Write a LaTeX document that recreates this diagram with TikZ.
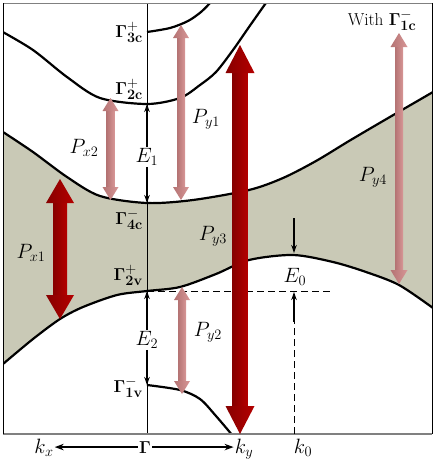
\documentclass[tikz,border=0pt]{standalone}
\usetikzlibrary{arrows.meta}
\DeclareMathSizes{17.28}{17.28}{14.4}{10}
\DeclareMathSizes{20.74}{20.74}{14.4}{10}
\definecolor{band}{RGB}{201,201,182}
\definecolor{dred}{RGB}{135,0,0}
\definecolor{mred}{RGB}{180,0,0}
\definecolor{lred}{RGB}{235,55,55}
\definecolor{dpink}{RGB}{180,115,115}
\definecolor{mpink}{RGB}{215,150,150}
\definecolor{lpink}{RGB}{245,200,200}
\newcommand\tdarrow[7]{%
  \shade[#7] ({#1-#4/2},{#2+#6-0.5}) rectangle ({#1+#4/2},{#3-#6+0.5});
  \shade[#7] ({#1-#5/2},{#2+#6}) -- (#1,#2) -- ({#1+#5/2},{#2+#6}) -- cycle;
  \shade[#7] ({#1-#5/2},{#3-#6}) -- (#1,#3) -- ({#1+#5/2},{#3-#6}) -- cycle;
}
\tikzset{
  redarrow/.style={left color=dred, middle color=lred, right color=mred},
  pinkarrow/.style={left color=dpink, middle color=lpink, right color=mpink},
  band curve/.style={line width=2.2pt, black},
  axisline/.style={line width=0.8pt, black},
  thinarrow/.style={line width=1.2pt, -{Stealth[length=8pt,width=5.5pt]}},
  botarrow/.style={line width=1.3pt, -{Stealth[length=9pt,width=6.5pt]}},
  dashline/.style={line width=1pt, dash pattern=on 7pt off 4pt},
  glabel/.style={anchor=east, inner sep=1pt},
  plabel/.style={inner sep=1pt, font=\huge},
  klabel/.style={inner sep=1pt, anchor=base},
}
\begin{document}
\begin{tikzpicture}[x=1pt, y=-1pt, font=\LARGE]
\useasboundingbox (0,0) rectangle (436,464);
\begin{scope}
\clip (3,3) rectangle (432,434);
% shaded band
\fill[band] plot[smooth] coordinates {(3,132) (33,152) (67,177) (100,196) (147,203) (193,200) (249,190) (283,178) (316,161) (349,141) (383,121) (433,92)}
  -- plot[smooth] coordinates {(433,308) (399,285) (366,272) (333,262) (293,255) (249,260) (216,274) (180,287) (147,291) (117,295) (83,307) (60,319) (33,339) (3,364)} -- cycle;
% axis
\draw[axisline] (147,3) -- (147,434);
% curves
\draw[band curve] plot[smooth] coordinates {(3,132) (33,152) (67,177) (100,196) (147,203) (193,200) (249,190) (283,178) (316,161) (349,141) (383,121) (433,92)};
\draw[band curve] plot[smooth] coordinates {(3,364) (33,339) (60,319) (83,307) (117,295) (147,291) (180,287) (216,274) (249,260) (293,255) (333,262) (366,272) (399,285) (433,308)};
\draw[band curve] plot[smooth] coordinates {(1,31) (33,50) (67,77) (100,98) (147,104) (180,98) (200,85) (216,72) (233,50) (249,27) (268,0)};
\draw[band curve] plot[smooth] coordinates {(147,32) (170,28) (188,21) (201,12) (211,2)};
\draw[band curve] plot[smooth] coordinates {(147,385) (180,390) (200,399) (216,416) (233,436)};
\end{scope}
% frame
\draw[gray, line width=1pt] (3,3) -- (432,3);
\draw[gray, line width=1.4pt] (3,434) -- (432,434);
\draw[black, line width=0.8pt] (3,3) -- (3,434);
\draw[black, line width=0.8pt] (432,3) -- (432,434);
% dashed guides
\coordinate (dl) at (147,291);
\coordinate (dr) at (333,291);
\coordinate (k0tip) at (294,292);
\coordinate (k0mid) at (294,322);
\coordinate (k0bot) at (294,434);
\coordinate (e0top) at (294,218);
\coordinate (e0tip) at (294,253);
\draw[dashline] (dl) -- (dr);
\draw[dashline] (k0bot) -- (k0mid);
\draw[thinarrow] (k0mid) -- (k0tip);
\draw[thinarrow] (e0top) -- (e0tip);
% 3D arrows
\tdarrow{60}{179}{319}{14}{28}{24}{redarrow}
\tdarrow{240}{45}{434}{15}{29}{28}{redarrow}
\tdarrow{110.5}{98}{200}{8}{16}{13}{pinkarrow}
\tdarrow{181}{25}{200}{8}{16}{13}{pinkarrow}
\tdarrow{182}{287}{394}{8}{16}{13}{pinkarrow}
\tdarrow{399}{33}{284}{8}{17}{14}{pinkarrow}
% gamma labels
\node[glabel] (g3c) at (144,32) {$\mathbf{\Gamma^{+}_{3c}}$};
\node[glabel] (g2c) at (144,89) {$\mathbf{\Gamma^{+}_{2c}}$};
\node[glabel] (g4c) at (144,219) {$\mathbf{\Gamma^{-}_{4c}}$};
\node[glabel] (g2v) at (144,275) {$\mathbf{\Gamma^{+}_{2v}}$};
\node[glabel] (g1v) at (144,387) {$\mathbf{\Gamma^{-}_{1v}}$};
% energy gaps
\coordinate (a2c) at (147,104);
\coordinate (a4c) at (147,203);
\coordinate (a2v) at (147,291);
\coordinate (a1v) at (147,385);
\node[plabel, fill=white] (E1) at (147,157) {$E_1$};
\node[plabel, fill=white] (E2) at (147,340) {$E_2$};
\draw[thinarrow] (E1) -- (a2c);
\draw[thinarrow] (E1) -- (a4c);
\draw[thinarrow] (E2) -- (a2v);
\draw[thinarrow] (E2) -- (a1v);
\node[plabel] (E0) at (295,277) {$E_0$};
% transition labels
\node[plabel] (px2) at (84,148) {$P_{x2}$};
\node[plabel] (py1) at (206,119) {$P_{y1}$};
\node[plabel] (py4) at (373,177) {$P_{y4}$};
\node[plabel] (py3) at (213,236) {$P_{y3}$};
\node[plabel] (px1) at (31,253) {$P_{x1}$};
\node[plabel] (py2) at (208,332) {$P_{y2}$};
\node[inner sep=1pt] (with) at (382,20) {With $\mathbf{\Gamma^{-}_{1c}}$};
% k axis
\node[klabel] (G) at (145,453) {$\mathbf{\Gamma}$};
\node[klabel, font=\huge] (kx) at (44,453) {$k_x$};
\node[klabel, font=\huge] (ky) at (244,453) {$k_y$};
\node[klabel, font=\huge] (k0) at (303,453) {$k_0$};
\draw[botarrow] (G.west) -- (G.west -| kx.east);
\draw[botarrow] (G.east) -- (G.east -| ky.west);
\end{tikzpicture}
\end{document}
